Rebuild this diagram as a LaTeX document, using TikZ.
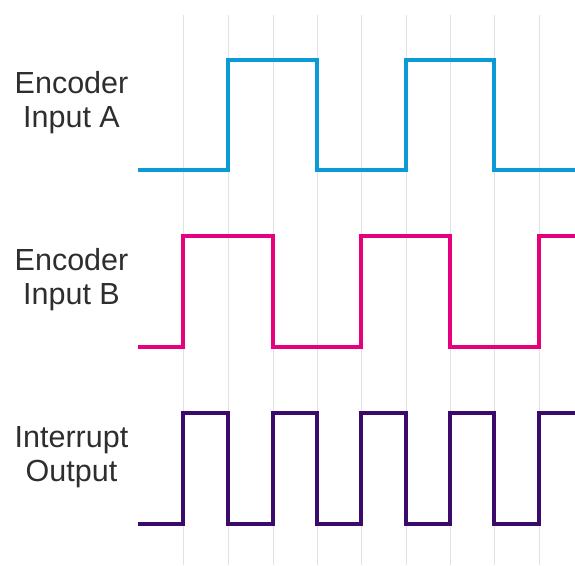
\documentclass[tikz,border=0pt]{standalone}
\usepackage{fontspec}
\setmainfont{Liberation Sans}
\definecolor{sigA}{HTML}{0A9AD6}
\definecolor{sigB}{HTML}{E5007D}
\definecolor{sigI}{HTML}{3B0A6B}
\definecolor{txt}{HTML}{2E2E2E}
\definecolor{gridc}{HTML}{E2E2E2}
\begin{document}
\begin{tikzpicture}[x=1pt,y=-1pt,
  gridline/.style={draw=gridc,line width=1pt},
  signal/.style={line width=4.6pt,line join=miter},
  lbl/.style={align=center,text=txt,inner sep=0pt,anchor=base,font=\fontsize{30.5}{34}\selectfont}]
\useasboundingbox[fill=white] (0,0) rectangle (575,565);
\foreach \x [count=\i] in {183,228,273,317,361,406,450,494,539}{
  \coordinate (gt\i) at (\x,15);
  \coordinate (gb\i) at (\x,565);
  \draw[gridline] (gt\i) -- (gb\i);
}
% labels (base anchor = baseline of last line)
\node[lbl] (la) at (71.5,127) {Encoder\\Input A};
\node[lbl] (lb) at (71.5,304) {Encoder\\Input B};
\node[lbl] (li) at (71.5,481) {Interrupt\\Output};
% signal A
\draw[signal,draw=sigA] (138,170) -- (228,170) -- (228,60) -- (317,60) -- (317,170)
  -- (406,170) -- (406,60) -- (494,60) -- (494,170) -- (577,170);
% signal B
\draw[signal,draw=sigB] (138,347) -- (183,347) -- (183,236) -- (273,236) -- (273,347)
  -- (361,347) -- (361,236) -- (450,236) -- (450,347) -- (539,347) -- (539,236) -- (577,236);
% interrupt
\draw[signal,draw=sigI] (138,524) -- (183,524) -- (183,413) -- (228,413) -- (228,524)
  -- (273,524) -- (273,413) -- (317,413) -- (317,524)
  -- (361,524) -- (361,413) -- (406,413) -- (406,524)
  -- (450,524) -- (450,413) -- (494,413) -- (494,524)
  -- (539,524) -- (539,413) -- (577,413);
\end{tikzpicture}
\end{document}
